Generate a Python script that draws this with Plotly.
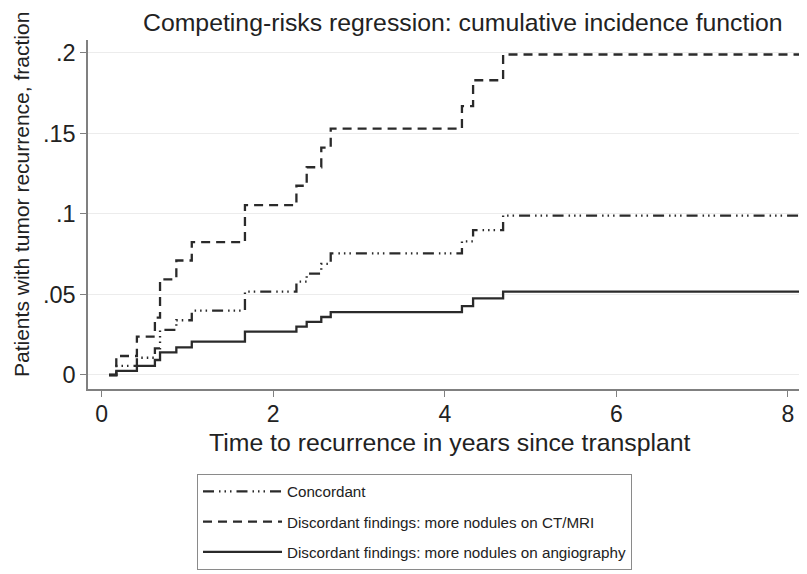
import plotly.graph_objects as go

# Event times (years since transplant) shared by all curves
times = [0.085, 0.17, 0.41, 0.62, 0.68, 0.87, 1.05, 1.67, 2.27, 2.39, 2.56, 2.67, 4.20, 4.33, 4.68, 8.14]

concordant = [0, 0.0056, 0.0107, 0.0165, 0.028, 0.034, 0.040, 0.0517, 0.058, 0.063, 0.069, 0.0755, 0.083, 0.090, 0.099, 0.099]
ct_mri = [0, 0.0118, 0.0238, 0.0356, 0.0594, 0.0711, 0.0825, 0.1055, 0.1175, 0.129, 0.1412, 0.153, 0.167, 0.183, 0.199, 0.199]
angiography = [0, 0.0025, 0.0056, 0.0093, 0.014, 0.0172, 0.0207, 0.0269, 0.030, 0.033, 0.036, 0.039, 0.0428, 0.0476, 0.0517, 0.0517]

series_names = [
    "Concordant",
    "Discordant findings: more nodules on CT/MRI",
    "Discordant findings: more nodules on angiography",
]

y_ticks = [0, 0.05, 0.1, 0.15, 0.2]
y_tick_labels = ["0", ".05", ".1", ".15", ".2"]
x_ticks = [0, 2, 4, 6, 8]
x_tick_labels = ["0", "2", "4", "6", "8"]

FONT = "Liberation Sans, Arial, Helvetica, sans-serif"
LINE_COLOR = "#2a2a2a"

# page has an 8px body margin: figure origin sits at (8, 8) in the window
OFF = 8
W, H = 807 - OFF, 574 - OFF
PL, PR, PT, PB = 88, 805, 40, 389  # plot area in window pixels
PW, PH = PR - PL, PB - PT


def px(xw):
    return (xw - PL) / PW


def py(yw):
    return (PB - yw) / PH


fig = go.Figure()
styles = [
    "11px,5px,1.5px,4px,1.5px,4px,1.5px,5px",
    "9px,6px",
    "solid",
]
for i, (name, vals, dash) in enumerate(zip(series_names, [concordant, ct_mri, angiography], styles)):
    fig.add_trace(go.Scatter(
        x=times, y=vals, name=name, mode="lines", legendgroup=f"g{i}",
        line=dict(shape="hv", color=LINE_COLOR, width=2.3, dash=dash),
    ))

fig.update_layout(
    width=W, height=H,
    margin=dict(l=PL - OFF, r=W - (PR - OFF), t=PT - OFF, b=H - (PB - OFF)),
    paper_bgcolor="white", plot_bgcolor="white",
    font=dict(family=FONT, color="#222222", size=20),
    showlegend=True,
    legend=dict(
        x=px(197), xanchor="left",
        y=py(474), yanchor="top",
        bordercolor="#8a8a8a", borderwidth=1, bgcolor="white",
        font=dict(size=15.2, family=FONT, color="#222222"),
        itemwidth=79, tracegroupgap=7.5,
    ),
    xaxis=dict(
        range=[-0.16, 8.2], tickvals=x_ticks, ticktext=x_tick_labels,
        showgrid=False, zeroline=False, showline=True, linecolor="#808080", linewidth=1.5,
        ticks="outside", ticklen=6, tickcolor="#808080", tickfont=dict(size=23),
        ticklabelstandoff=-2,
    ),
    yaxis=dict(
        range=[-0.0087, 0.208], tickvals=y_ticks, ticktext=y_tick_labels,
        showgrid=True, gridcolor="#ececec", gridwidth=1.2, zeroline=False,
        showline=True, linecolor="#808080", linewidth=1.5,
        ticks="outside", ticklen=6, tickcolor="#808080", tickfont=dict(size=23.5),
    ),
    annotations=[
        dict(text="Competing-risks regression: cumulative incidence function",
             xref="paper", yref="paper", x=px(463), y=py(22),
             showarrow=False, xanchor="center", yanchor="middle", font=dict(size=24.8)),
        dict(text="Time to recurrence in years since transplant",
             xref="paper", yref="paper", x=px(450), y=py(442),
             showarrow=False, xanchor="center", yanchor="middle", font=dict(size=24.8)),
        dict(text="Patients with tumor recurrence, fraction", textangle=-90,
             xref="paper", yref="paper", x=px(21), y=py(195),
             showarrow=False, xanchor="center", yanchor="middle", font=dict(size=21)),
    ],
)

fig.write_html("out.html")
